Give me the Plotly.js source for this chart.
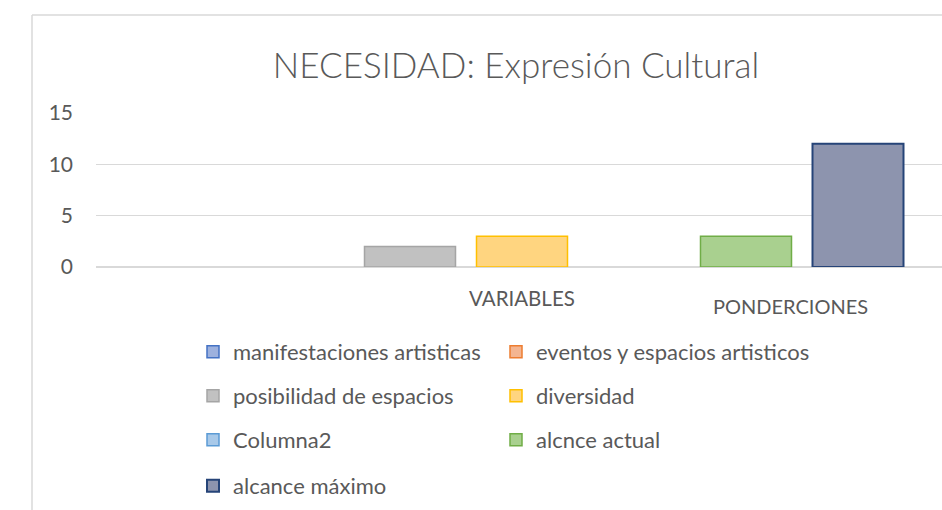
<!DOCTYPE html>
<html><head><meta charset="utf-8">
<script src="https://cdn.plot.ly/plotly-3.0.1.min.js"></script>
<style>html,body{margin:0;padding:0;background:#fff}#chart{width:942px;height:510px}</style>
</head><body><div id="chart"></div>
<script>
// ---- data ----
const seriesNames = ["manifestaciones artisticas","eventos y espacios artisticos","posibilidad de espacios","diversidad","Columna2","alcnce actual","alcance máximo"];
const seriesValues = [0, 0, 2, 3, 0, 3, 12];
const groupLabels = ["VARIABLES","PONDERCIONES"];
const yTicks = [0, 5, 10, 15];
const chartTitle = "NECESIDAD: Expresión Cultural";

// ---- styles ----
const fills = ["#9db1de","#f4b591","#c1c1c1","#ffd580","#a8c9e9","#a9d08f","#8d94ae"];
const lines = ["#4472c4","#ed7d31","#a5a5a5","#ffc000","#5b9bd5","#70ad47","#264478"];
const txt = "#595959";
const fontFam = "Lato, 'Open Sans', sans-serif";

const W = 942, L = 96, PW = W - L, T = 113, PH = 154;
const px2x = p => (p - L) / PW;
const py2y = p => (T + PH - p) / PH;

const legendIds = ["legend","legend2","legend3","legend4","legend5","legend6","legend7"];
const legPosX = [193, 496, 193, 496, 193, 496, 193];
const legPosY = [352, 352, 396, 396, 440, 440, 486];

// Excel draws nothing for a zero-height column, so zero values are not drawn
const traces = seriesNames.map((n, i) => ({
  type: "bar", name: n, x: [n], y: [seriesValues[i] === 0 ? null : seriesValues[i]],
  width: 0.8125,
  marker: {color: fills[i], line: {color: lines[i], width: i === 6 ? 2 : 1.5}},
  legend: legendIds[i], hoverinfo: "skip"
}));

function leg(px, py) {
  return {orientation: "h", x: px2x(px), xanchor: "left", y: py2y(py), yanchor: "middle",
    font: {family: fontFam, size: 22, color: txt}, bgcolor: "rgba(0,0,0,0)"};
}

const layout = {
  width: 942, height: 510,
  margin: {l: L, r: 0, t: T, b: 510 - T - PH},
  paper_bgcolor: "#fff", plot_bgcolor: "#fff",
  barmode: "overlay",
  font: {family: fontFam, color: txt},
  title: {text: chartTitle, font: {family: fontFam, size: 35, color: txt, weight: 300},
    x: 516 / 942, xref: "container", xanchor: "center", y: 1 - 66 / 510, yref: "container", yanchor: "middle"},
  xaxis: {type: "category", categoryorder: "array", categoryarray: seriesNames,
    range: [-0.8036, 6.75], showticklabels: false, showgrid: false, zeroline: false, showline: false, ticks: "", fixedrange: true},
  yaxis: {range: [0, 15], tickvals: yTicks, ticktext: yTicks.map(String), showgrid: true,
    gridcolor: "#d9d9d9", gridwidth: 1.3, zeroline: true, zerolinecolor: "#d9d9d9", zerolinewidth: 1.3,
    showline: false, ticks: "", ticklabelstandoff: 22, tickfont: {family: fontFam, size: 21, color: txt}, fixedrange: true},
  showlegend: true,
  annotations: [
    {text: groupLabels[0], x: 3.0, xref: "x", y: py2y(298), yref: "paper", showarrow: false,
      font: {family: fontFam, size: 20.5, color: txt}, xanchor: "center", yanchor: "middle"},
    {text: groupLabels[1], x: 5.4, xref: "x", y: py2y(306), yref: "paper", showarrow: false,
      font: {family: fontFam, size: 20, color: txt}, xanchor: "center", yanchor: "middle"}
  ],
  shapes: [
    {type: "line", xref: "paper", yref: "paper", x0: px2x(32), x1: px2x(32), y0: py2y(15), y1: py2y(515), line: {color: "#d9d9d9", width: 1.5}, layer: "below"},
    {type: "line", xref: "paper", yref: "paper", x0: px2x(32), x1: px2x(950), y0: py2y(15), y1: py2y(15), line: {color: "#d9d9d9", width: 1.5}, layer: "below"}
  ]
};
legendIds.forEach((id, i) => { layout[id] = leg(legPosX[i], legPosY[i]); });

Plotly.newPlot("chart", traces, layout, {staticPlot: true, displayModeBar: false});
</script></body></html>
